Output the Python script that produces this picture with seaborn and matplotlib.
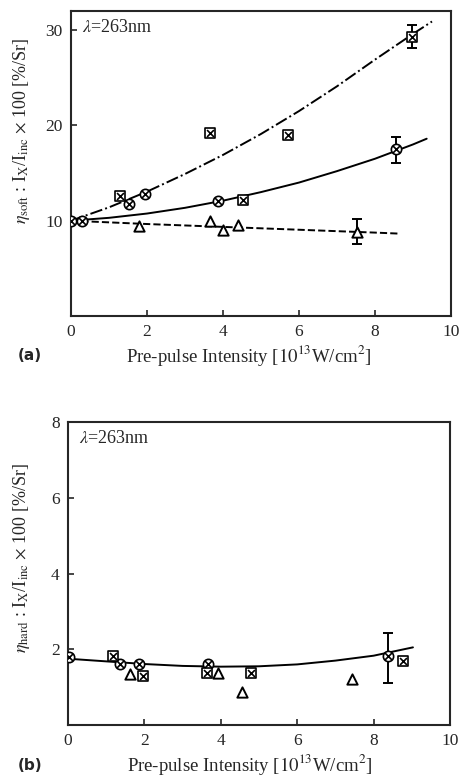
import numpy as np
import pandas as pd
import matplotlib.pyplot as plt
import seaborn as sns

# =========================================================
# DATOS
# =========================================================
# (a) eta_soft
soft_circ_x = [0.0, 0.3, 1.53, 1.95, 3.88, 8.54]
soft_circ_y = [10.0, 10.0, 11.7, 12.8, 12.1, 17.5]
soft_sq_x = [1.29, 3.66, 4.53, 5.72, 8.98]
soft_sq_y = [12.6, 19.2, 12.2, 19.0, 29.3]
soft_tri_x = [1.8, 3.66, 4.0, 4.4, 7.52]
soft_tri_y = [9.4, 10.0, 9.05, 9.5, 8.8]

# barras de error (x, y_min, y_max)
soft_err_x = [8.54, 8.98, 7.52]
soft_err_lo = [16.1, 28.1, 7.6]
soft_err_hi = [18.8, 30.5, 10.2]

# curvas de ajuste
fit_dashdot_x = [0, 1, 2, 3, 4, 5, 6, 7, 8, 9, 9.5]
fit_dashdot_y = [10.0, 11.4, 13.05, 14.9, 16.9, 19.1, 21.5, 24.1, 26.9, 29.6, 30.9]
fit_solid_x = [0, 1, 2, 3, 4, 5, 6, 7, 8, 9, 9.36]
fit_solid_y = [10.0, 10.3, 10.75, 11.35, 12.1, 13.0, 14.0, 15.2, 16.5, 18.0, 18.6]
fit_dash_x = [0, 2, 4, 6, 8, 8.6]
fit_dash_y = [10.0, 9.65, 9.35, 9.05, 8.75, 8.65]

# (b) eta_hard
hard_circ_x = [0.03, 1.36, 1.86, 3.67, 8.37]
hard_circ_y = [1.79, 1.6, 1.6, 1.6, 1.82]
hard_sq_x = [1.17, 1.97, 3.63, 4.78, 8.77]
hard_sq_y = [1.82, 1.29, 1.37, 1.37, 1.68]
hard_tri_x = [1.62, 3.93, 4.55, 7.43]
hard_tri_y = [1.34, 1.37, 0.87, 1.21]

hard_err_x = [8.37]
hard_err_lo = [1.1]
hard_err_hi = [2.42]

fit_hard_x = [0, 1, 2, 3, 4, 5, 6, 7, 8, 9.03]
fit_hard_y = [1.75, 1.68, 1.61, 1.56, 1.54, 1.55, 1.6, 1.7, 1.83, 2.05]

# =========================================================
# ESTILO
# =========================================================
sns.set_style("ticks")
plt.rcParams["font.family"] = ["Liberation Serif", "DejaVu Serif"]
plt.rcParams["mathtext.fontset"] = "stix"

fig = plt.figure(figsize=(4.59, 7.83), dpi=100)
ax1 = fig.add_axes([71 / 459, 1 - 316 / 783, 380 / 459, 305 / 783])
ax2 = fig.add_axes([68 / 459, 1 - 725 / 783, 382 / 459, 303 / 783])


def marcadores(ax, cx, cy, sx, sy, tx, ty, ms):
    sns.scatterplot(x=cx, y=cy, ax=ax, marker="o", s=ms, facecolor="white",
                    edgecolor="black", linewidth=1.2, zorder=4)
    sns.scatterplot(x=cx, y=cy, ax=ax, marker="x", s=ms * 0.45, color="black",
                    linewidth=1.2, zorder=5)
    sns.scatterplot(x=sx, y=sy, ax=ax, marker="s", s=ms, facecolor="white",
                    edgecolor="black", linewidth=1.2, zorder=4)
    sns.scatterplot(x=sx, y=sy, ax=ax, marker="x", s=ms * 0.45, color="black",
                    linewidth=1.2, zorder=5)
    sns.scatterplot(x=tx, y=ty, ax=ax, marker="^", s=ms, facecolor="white",
                    edgecolor="black", linewidth=1.4, zorder=4)


def ejes(ax, ymax, yticks, ylabel, ylab_pos, xlab_pos):
    ax.set_xlim(0, 10)
    ax.set_ylim(0, ymax)
    ax.set_xticks([0, 2, 4, 6, 8, 10])
    ax.set_yticks(yticks)
    ax.tick_params(direction="in", length=4, width=1.2, labelsize=12.5, pad=6)
    for sp in ax.spines.values():
        sp.set_linewidth(1.5)
    ax.set_ylabel(ylabel, fontsize=13, va="center")
    ax.yaxis.set_label_coords(*ylab_pos)
    ax.set_xlabel("Pre-pulse Intensity [$10^{13}$W/cm$^2$]", fontsize=13.5,
                  va="center")
    ax.xaxis.set_label_coords(*xlab_pos)
    ax.text(0.03, 0.975, r"$\lambda$=263nm", transform=ax.transAxes,
            fontsize=13, va="top", ha="left")


# =========================================================
# (a)
# =========================================================
sns.lineplot(x=fit_dashdot_x, y=fit_dashdot_y, ax=ax1, color="black",
             linestyle="-.", linewidth=1.4)
sns.lineplot(x=fit_solid_x, y=fit_solid_y, ax=ax1, color="black",
             linestyle="-", linewidth=1.4)
sns.lineplot(x=fit_dash_x, y=fit_dash_y, ax=ax1, color="black",
             linestyle="--", linewidth=1.4)
ax1.errorbar(soft_err_x, [(a + b) / 2 for a, b in zip(soft_err_lo, soft_err_hi)],
             yerr=[(b - a) / 2 for a, b in zip(soft_err_lo, soft_err_hi)],
             fmt="none", ecolor="black", elinewidth=1.4, capsize=3.5, capthick=1.4)
marcadores(ax1, soft_circ_x, soft_circ_y, soft_sq_x, soft_sq_y,
           soft_tri_x, soft_tri_y, 55)
ejes(ax1, 32, [10, 20, 30],
     r"$\eta_{\mathrm{soft}}$ : I$_\mathrm{X}$/I$_\mathrm{inc}$ $\times$ 100 [%/Sr]",
     (-0.13, 0.607), (0.468, -0.128))

# =========================================================
# (b)
# =========================================================
sns.lineplot(x=fit_hard_x, y=fit_hard_y, ax=ax2, color="black",
             linestyle="-", linewidth=1.4)
ax2.errorbar(hard_err_x, [(a + b) / 2 for a, b in zip(hard_err_lo, hard_err_hi)],
             yerr=[(b - a) / 2 for a, b in zip(hard_err_lo, hard_err_hi)],
             fmt="none", ecolor="black", elinewidth=1.4, capsize=3.5, capthick=1.4)
marcadores(ax2, hard_circ_x, hard_circ_y, hard_sq_x, hard_sq_y,
           hard_tri_x, hard_tri_y, 55)
ejes(ax2, 8, [2, 4, 6, 8],
     r"$\eta_{\mathrm{hard}}$ : I$_\mathrm{X}$/I$_\mathrm{inc}$ $\times$ 100 [%/Sr]",
     (-0.123, 0.551), (0.476, -0.132))

fig.text(18 / 459, 1 - 355 / 783, "(a)", fontsize=11, fontweight="bold",
         family="DejaVu Sans", va="center", ha="left")
fig.text(18 / 459, 1 - 765 / 783, "(b)", fontsize=11, fontweight="bold",
         family="DejaVu Sans", va="center", ha="left")

fig.savefig("out.png", dpi=100)
